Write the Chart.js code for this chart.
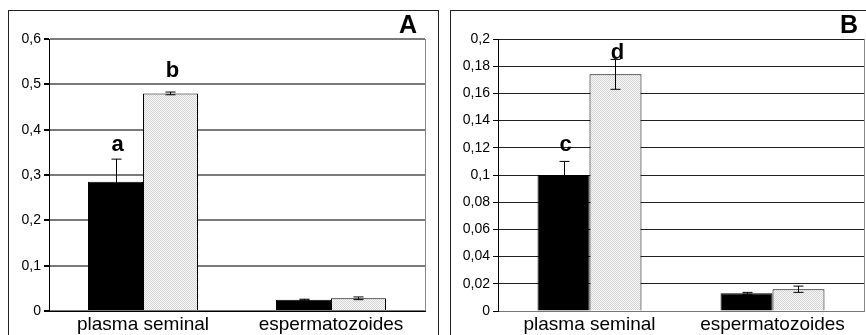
<!DOCTYPE html>
<html>
<head>
<meta charset="utf-8">
<script src="https://cdn.jsdelivr.net/npm/chart.js@4/dist/chart.umd.min.js"></script>
<style>
  body { margin: 0; background: #fff; width: 866px; height: 335px; overflow: hidden; position: relative; font-family: 'Liberation Sans', Arial, sans-serif; }
  .frame { position: absolute; border: 1px solid #222; box-sizing: border-box; }
  .tag { position: absolute; font-weight: bold; font-size: 25px; line-height: 25px; color: #000; }
  canvas { position: absolute; top: 0; }
</style>
</head>
<body>
<div class="frame" style="left:8px; top:10px; width:431px; height:340px;"></div>
<div class="frame" style="left:450px; top:10px; width:430px; height:340px;"></div>
<canvas id="chartA" width="440" height="335" style="left:0px;"></canvas>
<canvas id="chartB" width="426" height="335" style="left:440px;"></canvas>
<div class="tag" style="left:399px; top:12px;">A</div>
<div class="tag" style="left:840px; top:12px;">B</div>
<script>
// Categorias
const categories = ['plasma seminal', 'espermatozoides'];

// Painel A
const aBlack = [0.285, 0.025];
const aGrey = [0.48, 0.028];
const aBlackErr = [0.05, 0.001];
const aGreyErr = [0.003, 0.003];
const aLetters = ['a', 'b'];
const aLetterY = [0.366, 0.529];
const aTicks = [0, 0.1, 0.2, 0.3, 0.4, 0.5, 0.6];

// Painel B
const bBlack = [0.1, 0.013];
const bGrey = [0.174, 0.016];
const bBlackErr = [0.01, 0.0007];
const bGreyErr = [0.011, 0.0023];
const bLetters = ['c', 'd'];
const bLetterY = [0.122, 0.19];
const bTicks = [0, 0.02, 0.04, 0.06, 0.08, 0.1, 0.12, 0.14, 0.16, 0.18, 0.2];

// textura pontilhada da barra clara
function dotPattern() {
  const c = document.createElement('canvas');
  c.width = 2; c.height = 2;
  const g = c.getContext('2d');
  g.fillStyle = '#f7f7f7';
  g.fillRect(0, 0, 2, 2);
  g.fillStyle = '#d6d6d6';
  g.fillRect(0, 0, 1, 1);
  g.fillRect(1, 1, 1, 1);
  return g.createPattern(c, 'repeat');
}

function fmt(v, dec) {
  const r = Math.round(v * Math.pow(10, dec)) / Math.pow(10, dec);
  return String(r).replace('.', ',');
}

function makeChart(id, p) {
  const errors = [p.blackErr, p.greyErr];

  // barras de erro + letras
  const extras = {
    id: 'extras',
    afterDatasetsDraw(chart) {
      const ctx = chart.ctx;
      const ys = chart.scales.y;
      ctx.save();
      ctx.strokeStyle = '#000';
      ctx.lineWidth = 1;
      chart.data.datasets.forEach((ds, di) => {
        const meta = chart.getDatasetMeta(di);
        meta.data.forEach((bar, i) => {
          const x = Math.round(bar.x) + 0.5;
          const top = ys.getPixelForValue(ds.data[i] + errors[di][i]);
          const bot = ys.getPixelForValue(ds.data[i] - errors[di][i]);
          ctx.beginPath();
          ctx.moveTo(x, top); ctx.lineTo(x, bot);
          ctx.moveTo(x - 5, top); ctx.lineTo(x + 5, top);
          ctx.moveTo(x - 5, bot); ctx.lineTo(x + 5, bot);
          ctx.stroke();
        });
      });
      // letras sobre as barras de plasma seminal
      ctx.fillStyle = '#000';
      ctx.font = 'bold 22px "Liberation Sans", Arial, sans-serif';
      ctx.textAlign = 'center';
      ctx.textBaseline = 'middle';
      p.letters.forEach((t, di) => {
        const bar = chart.getDatasetMeta(di).data[0];
        ctx.fillText(t, bar.x + 2, ys.getPixelForValue(p.letterY[di]));
      });
      // borda direita da area do grafico
      const a = chart.chartArea;
      ctx.strokeStyle = '#888';
      ctx.beginPath();
      ctx.moveTo(a.right + 0.5, a.top); ctx.lineTo(a.right + 0.5, a.bottom);
      ctx.stroke();
      ctx.restore();
    }
  };

  return new Chart(document.getElementById(id), {
    type: 'bar',
    data: {
      labels: categories,
      datasets: [
        { label: 'preto', data: p.black, backgroundColor: '#000', borderColor: '#000', borderWidth: 1,
          categoryPercentage: p.catPct, barPercentage: 1 },
        { label: 'claro', data: p.grey, backgroundColor: dotPattern(), borderColor: '#000', borderWidth: 1,
          categoryPercentage: p.catPct, barPercentage: 1 }
      ]
    },
    options: {
      responsive: false,
      animation: false,
      devicePixelRatio: 1,
      layout: { padding: { left: 0, top: 39, right: p.padRight, bottom: 0 } },
      plugins: { legend: { display: false }, tooltip: { enabled: false } },
      scales: {
        x: {
          grid: { display: false },
          border: { display: true, color: p.baseColor, width: 1 },
          ticks: { color: '#000', padding: -6, font: { family: 'Liberation Sans', size: 19 }, maxRotation: 0 },
          afterFit(s) { s.height = 24; }
        },
        y: {
          min: 0,
          max: p.ticks[p.ticks.length - 1],
          afterBuildTicks(s) { s.ticks = p.ticks.map(v => ({ value: v })); },
          grid: { color: p.gridColor, lineWidth: p.gridWidth, tickColor: '#000', tickLength: 5, drawTicks: true },
          border: { display: true, color: '#000', width: 1 },
          ticks: {
            color: '#000', padding: 3,
            font: { family: 'Liberation Sans', size: 14 },
            callback: v => fmt(v, p.dec)
          },
          afterFit(s) { s.width = p.axisWidth; }
        }
      }
    },
    plugins: [extras]
  });
}

makeChart('chartA', {
  black: aBlack, grey: aGrey, blackErr: aBlackErr, greyErr: aGreyErr,
  letters: aLetters, letterY: aLetterY, ticks: aTicks, dec: 1,
  catPct: 0.585, padRight: 15, axisWidth: 49,
  gridColor: '#7a7a7a', gridWidth: 2, baseColor: '#000'
});

makeChart('chartB', {
  black: bBlack, grey: bGrey, blackErr: bBlackErr, greyErr: bGreyErr,
  letters: bLetters, letterY: bLetterY, ticks: bTicks, dec: 2,
  catPct: 0.568, padRight: 2, axisWidth: 58,
  gridColor: '#222', gridWidth: 1, baseColor: '#777'
});
</script>
</body>
</html>
